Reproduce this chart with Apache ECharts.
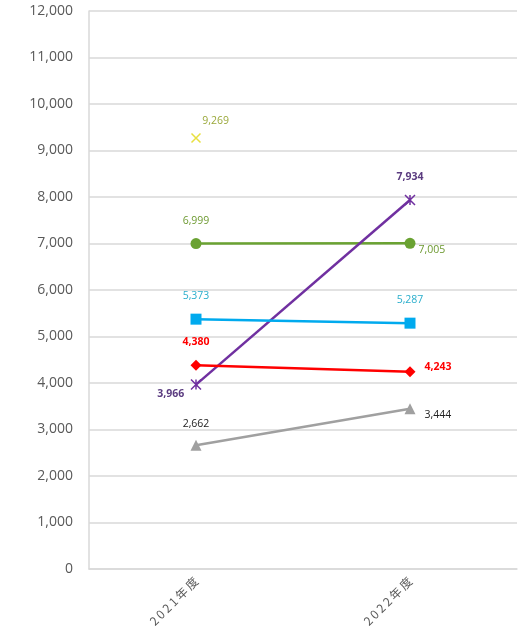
<!DOCTYPE html>
<html><head><meta charset="utf-8">
<script src="https://cdn.jsdelivr.net/npm/echarts@6/dist/echarts.min.js"></script>
<style>html,body{margin:0;padding:0;background:#fff}#c{width:521px;height:633px}</style>
</head><body><div id="c"></div>
<script>
const categories = ['2021年度', '2022年度'];
const yTicks = { min: 0, max: 12000, interval: 1000 };
const seriesNames = ['A', 'B', 'C', 'D', 'E', 'F'];
const valuesYellow = [9269, null];
const valuesGreen = [6999, 7005];
const valuesPurple = [3966, 7934];
const valuesCyan = [5373, 5287];
const valuesRed = [4380, 4243];
const valuesGray = [2662, 3444];

const fmt = v => v.toLocaleString('en-US');
const xPath = 'path://M0,0L10,10M10,0L0,10';
const starPath = 'path://M0,0L10,10M10,0L0,10M5,0L5,10';

function mk(name, vals, color, lineColor, symbol, size, labelColor, labelPos, bold, border) {
  return {
    name, type: 'line', data: vals.map((v, i) => v == null ? null : {
      value: v,
      label: Object.assign({ show: true, color: labelColor, fontSize: 10.5, fontWeight: bold ? 'bold' : 'normal',
        fontFamily: 'Open Sans', formatter: p => fmt(p.value) }, labelPos[i])
    }),
    symbol, symbolSize: size, showAllSymbol: true,
    itemStyle: border ? { color: 'transparent', borderColor: color, borderWidth: 1.5 } : { color },
    lineStyle: { color: lineColor, width: 2.5 },
    z: 3
  };
}

const chart = echarts.init(document.getElementById('c'));
chart.setOption({
  animation: false,
  grid: { left: 89, right: 4, top: 11, bottom: 64 },
  xAxis: {
    type: 'category', data: categories, boundaryGap: true,
    axisLine: { lineStyle: { color: '#d9d9d9', width: 1.5 } },
    axisTick: { show: false },
    axisLabel: { rotate: 45, color: '#595959', fontSize: 12, fontFamily: 'Noto Sans CJK JP', margin: 10,
      formatter: v => v.split('').join('\u2009') }
  },
  yAxis: {
    type: 'value', min: yTicks.min, max: yTicks.max, interval: yTicks.interval,
    axisLine: { show: true, lineStyle: { color: '#d9d9d9', width: 1.5 } },
    axisTick: { show: true, length: 0 },
    splitLine: { lineStyle: { color: '#d9d9d9', width: 1.5 } },
    axisLabel: { color: '#595959', fontSize: 14, fontFamily: 'Open Sans', margin: 16, formatter: v => fmt(v) }
  },
  series: [
    mk(seriesNames[0], valuesYellow, '#e8e040', '#e8e040', xPath, 9, '#9aa83a',
      [{ position: 'right', offset: [-4, -17] }, {}], false, true),
    mk(seriesNames[1], valuesGreen, '#6aa232', '#6aa232', 'circle', 11, '#6e9a32',
      [{ position: 'top', distance: 12 }, { position: 'right', offset: [-2, 7] }], false, false),
    mk(seriesNames[2], valuesPurple, '#7030a0', '#7030a0', starPath, 10, '#5b3c80',
      [{ position: 'left', offset: [0, 9], distance: 6 }, { position: 'top', distance: 12 }], true, true),
    mk(seriesNames[3], valuesCyan, '#00aaee', '#00aaee', 'rect', 11, '#2aaecc',
      [{ position: 'top', distance: 12 }, { position: 'top', distance: 12 }], false, false),
    mk(seriesNames[4], valuesRed, '#ff0000', '#ff0000', 'diamond', 11, '#ff0000',
      [{ position: 'top', distance: 12 }, { position: 'right', offset: [4, -5] }], true, false),
    mk(seriesNames[5], valuesGray, '#a0a0a0', '#a0a0a0', 'triangle', 11, '#222222',
      [{ position: 'top', distance: 10 }, { position: 'right', offset: [4, 6] }], false, false)
  ]
});
</script></body></html>
